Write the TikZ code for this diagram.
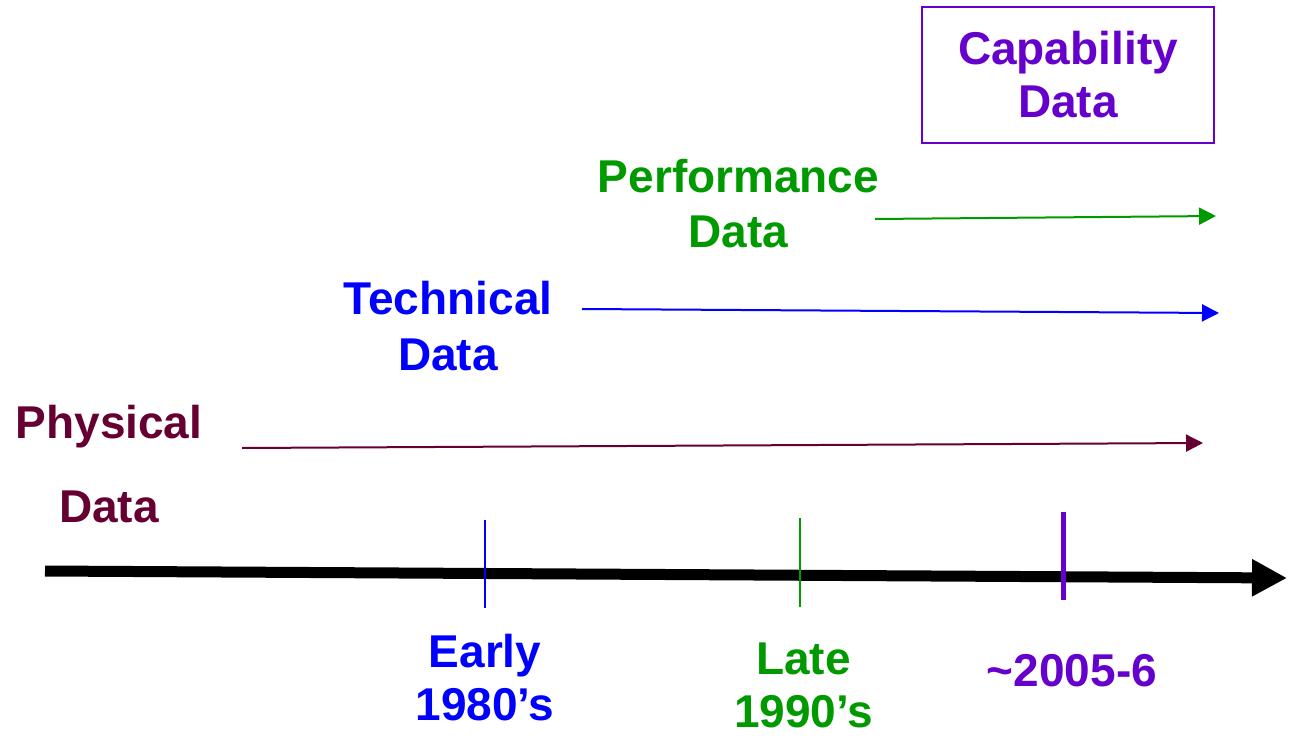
\documentclass[tikz,border=0pt]{standalone}
\usepackage{fontspec}
\setmainfont{Liberation Sans}
\usetikzlibrary{arrows.meta}
\definecolor{cpurple}{HTML}{6600CC}
\definecolor{cmaroon}{HTML}{660033}
\definecolor{cgreen}{HTML}{009900}
\definecolor{cblue}{HTML}{0000FF}
\begin{document}
\begin{tikzpicture}[x=1pt,y=-1pt,
  lbl/.style={inner sep=0pt,align=center,anchor=north,font=\fontsize{46}{55}\selectfont\bfseries},
  era/.style={line width=2pt,-{Triangle[length=17pt,width=17pt]}},
  tick/.style={line width=2pt}]
\useasboundingbox (0,0) rectangle (1297,738);
% capability box
\node[draw=cpurple,line width=2pt,text=cpurple,inner sep=0pt,align=center,
  minimum width=292pt,minimum height=136pt,
  font=\fontsize{46}{53}\selectfont\bfseries] (cap) at (1068,75) {Capability\\Data};
% labels
\node[lbl,text=cgreen] (perf) at (738.5,158.5) {Performance\\Data};
\node[lbl,text=cblue,font=\fontsize{46}{56}\selectfont\bfseries] (tech) at (448,280.5) {Technical\\Data};
\node[lbl,text=cmaroon,font=\fontsize{46}{84}\selectfont\bfseries] (phys) at (109,404.5) {Physical\\Data};
\node[lbl,text=cblue,font=\fontsize{46}{53}\selectfont\bfseries] (early) at (485,633.5) {Early\\1980’s};
\node[lbl,text=cgreen,font=\fontsize{46}{53}\selectfont\bfseries] (late) at (803.5,643) {Late\\1990’s};
\node[lbl,text=cpurple] (y2005) at (1072,654.5) {\textasciitilde2005-6};
% era arrows
\coordinate (gS) at (875,219); \coordinate (gE) at (1216,216);
\coordinate (bS) at (582,309); \coordinate (bE) at (1219,313);
\coordinate (mS) at (242,448); \coordinate (mE) at (1203,443);
\draw[era,cgreen] (gS) -- (gE);
\draw[era,cblue] (bS) -- (bE);
\draw[era,cmaroon] (mS) -- (mE);
% time axis
\coordinate (aS) at (45,571); \coordinate (aE) at (1287,578);
\draw[line width=11pt,-{Triangle[length=35pt,width=35pt]}] (aS) -- (aE);
% ticks
\coordinate (t1a) at (485,520); \coordinate (t1b) at (485,608);
\coordinate (t2a) at (800,518); \coordinate (t2b) at (800,607);
\coordinate (t3a) at (1063,512); \coordinate (t3b) at (1063,600);
\draw[tick,cblue] (t1a) -- (t1b);
\draw[tick,cgreen] (t2a) -- (t2b);
\draw[line width=5pt,cpurple] (t3a) -- (t3b);
\end{tikzpicture}
\end{document}
